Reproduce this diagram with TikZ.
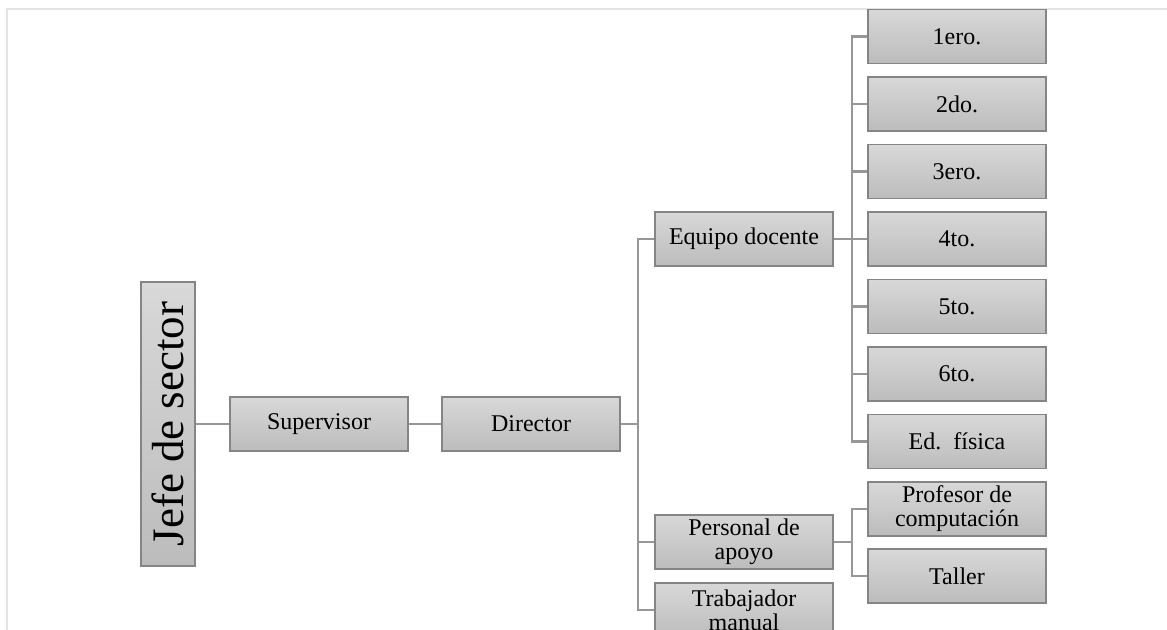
\documentclass[tikz,border=0pt]{standalone}
\usepackage{fontspec}
\setmainfont{Liberation Serif}
\usetikzlibrary{positioning, calc}
\definecolor{boxEdge}{HTML}{858585}
\definecolor{boxTop}{HTML}{D8D8D8}
\definecolor{boxBot}{HTML}{BCBCBC}
\definecolor{linkGray}{HTML}{979797}
\definecolor{frameGray}{HTML}{E4E4E4}
\tikzset{
  orgBox/.style={rectangle, minimum width=89pt, minimum height=27pt, inner sep=1pt, align=center, draw=boxEdge, line width=0.6pt, top color=boxTop, bottom color=boxBot, font=\fontsize{12}{12}\selectfont},
  orgHead/.style={orgBox, minimum width=27pt, minimum height=142pt, font=\fontsize{22.5}{24}\selectfont},
  orgLink/.style={draw=linkGray, line width=1.1pt},
}
\begin{document}
\begin{tikzpicture}[node distance=6.15pt]
\useasboundingbox (0,0) rectangle (583.5pt,-315pt);
\draw [frameGray, line width=1pt] (3.5pt,-315pt) |- (583.5pt,-4.5pt);

\node (jefe) [orgHead] at (84pt,-212pt) {\rotatebox{90}{Jefe de sector}};
\node (sup) [orgBox, right=16.9pt of jefe] {Supervisor};
\node (dir) [orgBox, right=16.4pt of sup] {Director};
\node (equipo) [orgBox, right=16.9pt of dir, yshift=92.5pt] {Equipo docente};
\node (apoyo) [orgBox, right=16.9pt of dir, yshift=-59pt] {Personal de\\apoyo};
\node (manual) [orgBox, below=6.4pt of apoyo] {Trabajador\\manual};
\node (g4) [orgBox, right=16.9pt of equipo] {4to.};
\node (g3) [orgBox, above=of g4] {3ero.};
\node (g2) [orgBox, above=of g3] {2do.};
\node (g1) [orgBox, above=of g2] {1ero.};
\node (g5) [orgBox, below=of g4] {5to.};
\node (g6) [orgBox, below=of g5] {6to.};
\node (gef) [orgBox, below=of g6] {Ed.\ \ física};
\node (prof) [orgBox, right=16.9pt of apoyo, yshift=16.5pt] {Profesor de\\computación};
\node (taller) [orgBox, below=5.9pt of prof] {Taller};

\draw [orgLink] (jefe) -- (sup);
\draw [orgLink] (sup) -- (dir);
\draw [orgLink] (dir.east) -- ++(8.5pt,0) coordinate (dirFork);
\foreach \k in {equipo, apoyo, manual}
  \draw [orgLink] (dirFork) |- (\k.west);
\draw [orgLink] (equipo.east) -- ++(9pt,0) coordinate (gradeFork);
\foreach \k in {g1, g2, g3, g4, g5, g6, gef}
  \draw [orgLink] (gradeFork) |- (\k.west);
\draw [orgLink] (apoyo.east) -- ++(9pt,0) coordinate (apoyoFork);
\foreach \k in {prof, taller}
  \draw [orgLink] (apoyoFork) |- (\k.west);
\end{tikzpicture}
\end{document}
